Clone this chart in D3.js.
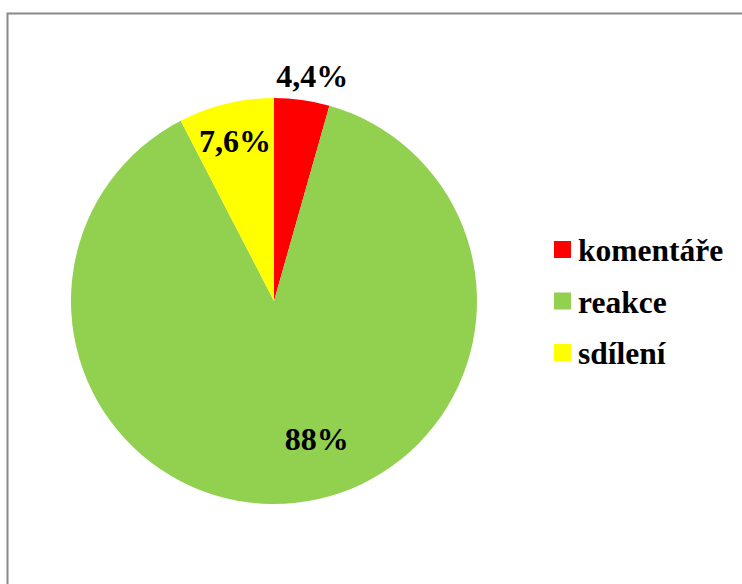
<!DOCTYPE html>
<html>
<head>
<meta charset="utf-8">
<script src="https://cdn.jsdelivr.net/npm/d3@7/dist/d3.min.js"></script>
<style>
  html, body { margin: 0; padding: 0; background: #fff; }
  svg { display: block; }
  text { font-family: "Liberation Serif", "Times New Roman", serif; font-weight: bold; fill: #000; }
</style>
</head>
<body>
<svg id="chart" width="742" height="584"></svg>
<script>
// Share of interaction types
const categories = ["komentáře", "reakce", "sdílení"];
const values = [4.4, 88, 7.6];
const labels = ["4,4%", "88%", "7,6%"];
const colors = ["#FF0000", "#92D050", "#FFFF00"];

const svg = d3.select("#chart");

// Outer frame (right and bottom edges run off the canvas)
svg.append("rect")
  .attr("x", 7.5).attr("y", 13.5)
  .attr("width", 760).attr("height", 600)
  .attr("fill", "#fff")
  .attr("stroke", "#898989")
  .attr("stroke-width", 2);

const cx = 274, cy = 301, r = 203;

const pie = d3.pie().sort(null).value(d => d.value);
const arc = d3.arc().innerRadius(0).outerRadius(r);
const data = categories.map((c, i) => ({ name: c, value: values[i], label: labels[i], color: colors[i] }));
const arcs = pie(data);

const g = svg.append("g").attr("transform", `translate(${cx},${cy})`);
g.selectAll("path.slice")
  .data(arcs)
  .join("path")
  .attr("class", "slice")
  .attr("d", arc)
  .attr("fill", d => d.data.color);

// Percentage label placement: radius factor along the slice mid-angle plus a horizontal nudge
const labelRadius = [1.12, 0.68, 0.81];
const labelNudge = [7, 29, 0];
g.selectAll("text.pct")
  .data(arcs)
  .join("text")
  .attr("class", "pct")
  .attr("text-anchor", "middle")
  .attr("font-size", 32)
  .attr("dy", "0.35em")
  .attr("transform", (d, i) => {
    const rr = r * labelRadius[i];
    const [x, y] = d3.arc().innerRadius(rr).outerRadius(rr).centroid(d);
    return `translate(${x + labelNudge[i]},${y})`;
  })
  .text(d => d.data.label);

// Legend
const legend = svg.append("g").attr("transform", "translate(554,241)");
const rowH = 51.5;
const item = legend.selectAll("g.item")
  .data(data)
  .join("g")
  .attr("class", "item")
  .attr("transform", (d, i) => `translate(0,${i * rowH})`);
item.append("rect")
  .attr("width", 17).attr("height", 17)
  .attr("fill", d => d.color);
item.append("text")
  .attr("x", 24).attr("y", 20)
  .attr("font-size", 31.5)
  .text(d => d.name);
</script>
</body>
</html>
